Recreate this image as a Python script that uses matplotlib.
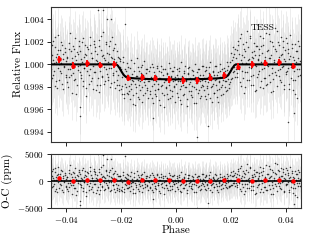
import numpy as np
import matplotlib
matplotlib.use("Agg")
import matplotlib.pyplot as plt

plt.rcParams['font.family'] = 'serif'
plt.rcParams['font.serif'] = ['cmr10']
plt.rcParams['mathtext.fontset'] = 'cm'
plt.rcParams['axes.formatter.use_mathtext'] = True

# ── Phase-folded TESS photometry (phase in 1e-4, flux offset from 1 in 1e-5) ──
phase_raw = """
-453 -451 -448 -446 -443 -441 -439 -436 -434 -431 -429 -427 -424 -422 -419 -417 -414 -412 -410 -407 -405 -402 -400
-397 -395 -392 -390 -388 -385 -383 -380 -378 -375 -373 -371 -368 -366 -363 -361 -358 -356 -354 -351
-348 -346 -343 -341 -338 -336 -334 -331 -329 -326 -324 -321 -319 -317 -314 -312 -309 -307 -305 -302 -300
-297 -295 -292 -290 -287 -285 -283 -280 -278 -275 -273 -270 -268 -266 -263 -261 -258 -256 -253 -251
-248 -246 -243 -241 -238 -236 -234 -231 -229 -226 -224 -221 -219
-216 -214 -211 -209 -206 -204 -201 -199 -196 -194 -191 -189 -187 -184 -182 -179 -177
-174 -172 -169 -167 -164 -162 -160 -157 -155 -152 -150 -147 -145 -143 -140 -138 -135 -133 -130 -128 -126 -123 -121 -118 -116 -113 -111 -109 -106 -104 -101
-99 -96 -94 -91 -89 -87 -84 -82 -79 -77 -74 -72 -70 -67 -65 -62 -60 -58 -55 -53 -50 -48 -45 -43 -41 -38 -36 -33 -31 -29 -26 -24 -21 -19 -16 -14 -12 -9 -7 -4 -2
1 3 6 8 11 13 16 18 20 23 25 28 30 33 35 37 40 42 45 47 50 52 55 57 59 62 64 67 69 72 74 76 79 81 84 86 89 91 94 96 99
101 104 106 109 111 113 116 118 121 123 126 128 130 133 135 138 140 143 145 147 150 152 155 157 160 162 164 167 169 172 174
177 179 182 184 187 189 191 194 196 199 201 204 206 208 211 213 216 218
221 223 226 228 231 233 236 238 240 243 245 248 250 253 255 257 260 262 265 267 270 272 274 277 279 282 284 287 289 291 294 296 299
301 304 306 309 311 313 316 318 321 323 325 328 330 333 335 338 340 342 345 347 350 352 355 357 359 362 364 367 369 371 374 376 379 381 384 386 389 391 393 396 398
401 403 406 408 410 413 415 418 420 422 425 427 430 432 435 437 439 442 444 447 449 452
-454 -450 -447 -444 -442 -438 -435 -432 -428 -425 -421 -418 -415 -411 -408 -404 -401
-398 -394 -391 -387 -384 -381 -377 -374 -370 -367 -364 -360 -357 -353 -350
-347 -344 -340 -337 -333 -330 -327 -323 -320 -316 -313 -310 -306 -303
-299 -296 -293 -289 -286 -282 -279 -276 -272 -269 -265 -262 -259 -255 -252
-249 -245 -242 -239 -235 -232 -228 -225 -222 -218
-215 -212 -208 -205 -202 -198 -195 -192 -188 -185 -181 -178
-176 -173 -170 -166 -163 -159 -156 -153 -149 -146 -142 -139 -136 -132 -129 -125 -122 -119 -115 -112 -108 -105 -102
-98 -95 -92 -88 -85 -81 -78 -75 -71 -68 -64 -61 -57 -54 -51 -47 -44 -40 -37 -34 -30 -27 -23 -20 -17 -13 -10 -6 -3
2 5 9 12 15 19 22 26 29 32 36 39 43 46 49 53 56 60 63 66 70 73 77 80 83 87 90 93 97 100
103 107 110 114 117 120 124 127 131 134 137 141 144 148 151 154 158 161 165 168 171 175
178 181 185 188 192 195 198 202 205 209 212 215 219
222 225 229 232 235 239 242 246 249 252 256 259 263 266 269 273 276 280 283 286 290 293 297 300
303 307 310 314 317 320 324 327 331 334 337 341 344 348 351 354 358 361 365 368 372 375 378 382 385 388 392 395 399
402 405 409 412 416 419 423 426 429 433 436 440 443 446 450 454
-284 -266 -251 -237 -349 -349 -85 75 117 407 429
"""
flux_raw = """
85 -120 210 40 -60 150 -190 20 95 -30 260 -140 60 130 -80 10 175 -220 45 -15 110 -95 30
-160 70 -40 190 -110 5 120 -250 60 -75 140 -20 230 -130 35 -185 90 -50 160 -5
115 -90 25 200 -145 65 -30 170 -210 80 -60 135 15 -175 245 -45 100 -120 55 -10 185
-70 150 -230 40 95 -125 10 220 -55 -180 130 75 -100 290 -25 60 -150 185 -40 105
20 -115 165 -200 70 -35 240 -90 125 -155 50 180 -60
120 -180 -90 60 -230 45 -220 -40 -260 20 -300 -95 360 -170 -60 -250 10
-20 -240 -130 -310 40 -170 -85 -270 -150 10 -360 -105 -200 60 -140 -290 -60 -180 -230 -20 -120 -330 -95 -160 30 -250 -130 -75 -210 -40 -300
-150 -20 -260 -110 -190 5 -340 -140 -70 -230 -100 -280 -30 -170 -215 -60 -320 -125 -10 -195 -250 -90 -155 -380 -45 -135 -210 -80 -265 -120 15 -185 -300 -100 -55 -240 -150 -20 -205 -330 -115
-170 -40 -290 -125 -60 -220 -145 20 -350 -105 -180 -75 -260 -10 -200 -140 -310 -85 -30 -235 -160 -120 -275 -50 -190 -95 -340 -130 0 -215 -165 -70 -255 -110 -40 -300 -145 -205 -15 -180 -95
-230 -60 -150 -310 -20 -190 -115 -265 -80 25 -205 -140 -330 -55 -170 -95 -250 -10 -185 -130 -290 -70 -160 -220 5 -110 -275 -45 -180 -140 -90
-200 -60 -150 20 -230 -90 -10 -175 -60 100 -130 40 -70 150 -20 90 -110 60
130 -80 210 -20 95 -160 270 40 -55 180 -120 65 -200 120 15 300 -70 155 -135 45 230 -30 -180 110 60 -95 190 -240 80 -10 160 -110 35
140 -60 250 -150 20 105 -210 175 -35 70 -120 280 -5 -175 130 55 -90 210 -245 85 -30 165 -130 40 320 -70 115 -190 10 200 -105 65 -40 240 -160 90 -15 150 -220 30 125
-85 190 -30 100 -170 45 260 -125 -5 145 -230 70 -60 180 -140 20 115 -300 55 -40 165 -95
-40 175 -95 15 240 -150 70 -210 125 5 -60 195 -175 90 -25 145 -115
60 -200 135 -45 280 -90 20 160 -135 75 -260 110 -15 205 -70
-120 45 -190 230 -35 95 -280 150 -5 -95 170 -150 55 -220
210 -65 120 -180 30 -245 160 -20 250 -110 85 -175 40 195 -85
-140 90 -30 205 -165 55 -75 145 -210 25
-140 70 -180 -20 30 -190 -110 70 -260 -40 -200 -90
-260 -90 -190 -30 -220 -140 -350 -60 -175 -250 -100 -20 -310 -150 -80 -200 -5 -270 -120 -185 -40 -230 -145
-60 -240 -130 -300 -25 -175 -95 -260 -150 -10 -220 -120 -360 -70 -185 -40 -270 -135 -205 -85 -310 -160 -30 -230 -115 -280 -55 -190 -140
-90 -250 -150 -30 -320 -190 -110 -270 -60 -205 -145 -370 -80 -175 -25 -240 -130 -290 -60 -200 -115 -345 -165 -45 -230 -95 -280 -140 -10 -195
-125 -280 -50 -210 -160 -20 -300 -105 -190 -70 -250 -135 -15 -225 -95 -330 -150 -60 -200 -115 -260 -30
-150 -240 -50 -130 -210 20 -160 -30 -120 70 -60 140 -40
-110 175 -45 230 -190 80 10 -255 140 -70 195 -140 35 -20 250 -100 70 -180 120 -5 -230 165 50 -85
80 -205 165 -40 230 -120 40 -180 115 -10 270 -155 60 -75 195 -240 20 135 -95 300 -50 170 -140 85 -25 210 -185 45 -70
230 -60 135 -215 75 -20 185 -135 40 -260 120 -45 205 -100 30 160
487 482 404 403 -457 -380 -474 -647 -546 -510 -430
"""
phase = np.array(phase_raw.split(), dtype=float) * 1e-4
flux = 1 + np.array(flux_raw.split(), dtype=float) * 1e-5
flux_err = 0.0024

# ── Transit model curve ──
model_phase = [-0.0460, -0.0218, -0.0212, -0.0205, -0.0198, -0.0190, -0.0182, -0.0175,
               -0.0150, -0.0100, 0.0, 0.0100, 0.0150, 0.0175, 0.0182, 0.0190,
               0.0198, 0.0205, 0.0212, 0.0218, 0.0460]
model_flux = [1.0, 1.0, 0.9999, 0.99965, 0.99935, 0.99905, 0.99888, 0.99882,
              0.99876, 0.99870, 0.99867, 0.99870, 0.99876, 0.99882, 0.99888, 0.99905,
              0.99935, 0.99965, 0.9999, 1.0, 1.0]

# ── Binned points ──
bin_phase = [-0.0425, -0.0375, -0.0325, -0.0275, -0.0225, -0.0175, -0.0125, -0.0075, -0.0025,
             0.0025, 0.0075, 0.0125, 0.0175, 0.0225, 0.0275, 0.0325, 0.0375, 0.0425]
bin_flux = [1.00045, 0.99988, 1.00010, 0.99994, 1.00000, 0.99880, 0.99886, 0.99880, 0.99866,
            0.99859, 0.99859, 0.99883, 0.99904, 0.99978, 1.00000, 1.00012, 1.00020, 0.99985]
bin_err = 0.0003
bin_resid = [500, -60, 130, 60, 130, -190, 190, 130, 60,
             0, -30, -60, 20, 20, 0, 60, 60, 0]

resid = (flux - np.interp(phase, model_phase, model_flux)) * 1e6

fig = plt.figure(figsize=(3.09, 2.40), dpi=100)
ax1 = fig.add_axes([0.165, 0.408, 0.809, 0.563])
ax2 = fig.add_axes([0.165, 0.135, 0.809, 0.225])

ax1.errorbar(phase, flux, yerr=flux_err, fmt='none', ecolor='0.8', elinewidth=0.5, alpha=0.5, zorder=1)
ax1.plot(phase, flux, 'k.', ms=2.2, alpha=0.75, mew=0, zorder=2)
ax1.plot(model_phase, model_flux, 'k-', lw=1.5, zorder=3)
ax1.errorbar(bin_phase, bin_flux, yerr=bin_err, fmt='o', color='red', ms=2.2, elinewidth=1.3, capsize=0, zorder=4)
ax1.text(0.0315, 1.00326, 'TESS', fontsize=7, ha='center', va='center')
ax1.set_xlim(-0.0455, 0.0455)
ax1.set_ylim(0.9931, 1.0051)
ax1.set_yticks([0.994, 0.996, 0.998, 1.000, 1.002, 1.004])
ax1.set_yticklabels(['0.994', '0.996', '0.998', '1.000', '1.002', '1.004'])
ax1.set_xticks([-0.04, -0.02, 0.0, 0.02, 0.04])
ax1.set_xticklabels([])
ax1.set_ylabel('Relative Flux', fontsize=8)
ax1.yaxis.set_label_coords(-0.112, 0.578)

ax2.errorbar(phase, resid, yerr=flux_err * 1e6, fmt='none', ecolor='0.8', elinewidth=0.5, alpha=0.5, zorder=1)
ax2.plot(phase, resid, 'k.', ms=2.2, alpha=0.75, mew=0, zorder=2)
ax2.axhline(0, color='k', lw=1.2, zorder=3)
ax2.errorbar(bin_phase, bin_resid, yerr=bin_err * 1e6, fmt='o', color='red', ms=2.2, elinewidth=1.0, capsize=0, zorder=4)
ax2.set_xlim(-0.0455, 0.0455)
ax2.set_ylim(-5000, 5000)
ax2.set_yticks([-5000, 0, 5000])
ax2.set_xticks([-0.04, -0.02, 0.0, 0.02, 0.04])
ax2.set_xticklabels(['$-0.04$', '$-0.02$', '$0.00$', '$0.02$', '$0.04$'])
ax2.set_ylabel('O-C (ppm)', fontsize=8)
ax2.yaxis.set_label_coords(-0.152, 0.5)
ax2.set_xlabel('Phase', fontsize=8, labelpad=1)

for ax in (ax1, ax2):
    ax.tick_params(labelsize=6.5, length=3, width=0.6, pad=2)
    for s in ax.spines.values():
        s.set_linewidth(0.8)
        s.set_color('0.2')

fig.savefig('out.png', dpi=100)
